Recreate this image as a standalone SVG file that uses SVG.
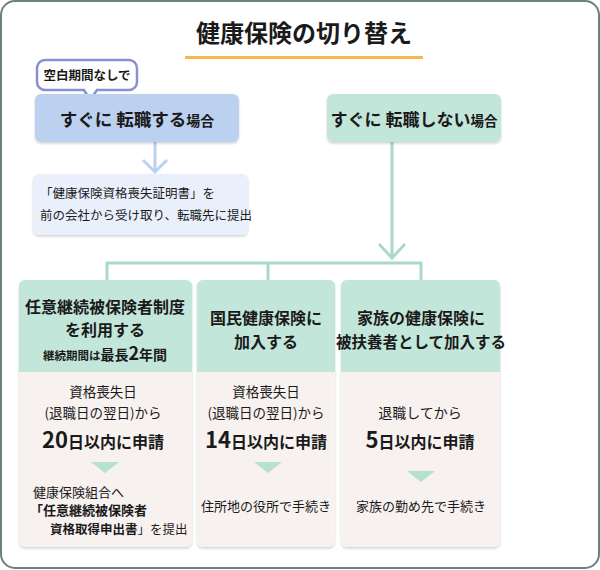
<svg xmlns="http://www.w3.org/2000/svg" width="600" height="570" viewBox="0 0 600 570">
<style>
text{font-family:"Noto Sans CJK JP","Noto Sans",sans-serif;fill:#1a1a1a;text-anchor:middle}
.b{font-weight:bold}
.hd{fill:#c3e6da}
.bd{fill:#f7f1f0}
.ln{stroke:#a9d9c8;stroke-width:3;fill:none}
.tri{fill:#b5e0d2}
</style>
<defs>
<filter id="sh" x="-5%" y="-5%" width="110%" height="115%"><feDropShadow dx="0" dy="1.5" stdDeviation="1" flood-color="#000" flood-opacity="0.18"/></filter>
</defs>
<rect x="1" y="1" width="598" height="567" rx="14" fill="#fff" stroke="#6e7f80" stroke-width="2"/>
<g id="title">
<rect x="185" y="56" width="238" height="3" fill="#f8b84e"/>
<text x="304" y="42" class="b" font-size="24">健康保険の切り替え</text>
</g>
<g id="connectors">
<path d="M155 142V172M143 160L155 172L167 160" stroke="#bcd0f0" stroke-width="3" fill="none"/>
<path class="ln" d="M392 142V258M379 244L392 258L405 244"/>
<path class="ln" d="M107 280V263H421V280M268 263V280"/>
</g>
<g id="bubble">
<path d="M45 60H129A8 8 0 0 1 137 68V82A8 8 0 0 1 129 90H97L90 100L84 90H45A8 8 0 0 1 37 82V68A8 8 0 0 1 45 60Z" fill="#fff" stroke="#8a8fd2" stroke-width="2.5"/>
<text x="87" y="80" class="b" font-size="12.5">空白期間なしで</text>
</g>
<g id="switch">
<rect x="35" y="94" width="204" height="48" rx="6" fill="#bcd0f0" filter="url(#sh)"/>
<text x="137" y="126" class="b" font-size="17.5">すぐに 転職する<tspan font-size="14">場合</tspan></text>
</g>
<g id="noswitch">
<rect x="327" y="94" width="174" height="48" rx="6" fill="#c3e6da" filter="url(#sh)"/>
<text x="414" y="126" class="b" font-size="17">すぐに 転職しない<tspan font-size="13.5">場合</tspan></text>
</g>
<g id="cert">
<rect x="33" y="174" width="215" height="61" rx="6" fill="#e9f0fb" filter="url(#sh)"/>
<text x="40" y="198" font-size="12.5" style="text-anchor:start">「健康保険資格喪失証明書」を</text>
<text x="40" y="220" font-size="12.5" style="text-anchor:start">前の会社から受け取り、転職先に提出</text>
</g>
<g id="nini">
<rect x="19" y="280" width="173" height="267" rx="6" class="bd" filter="url(#sh)"/>
<path d="M25 280H186A6 6 0 0 1 192 286V372H19V286A6 6 0 0 1 25 280Z" class="hd"/>
<text x="105" y="313" class="b" font-size="16">任意継続被保険者制度</text>
<text x="105" y="336" class="b" font-size="16">を利用する</text>
<text x="105" y="360" class="b" font-size="11.5">継続期間は<tspan font-size="14">最長</tspan><tspan font-size="18">2</tspan><tspan font-size="14">年間</tspan></text>
<text x="103" y="397" font-size="13.5">資格喪失日</text>
<text x="103" y="418" font-size="13.5">(退職日の翌日)から</text>
<text x="103" y="448" class="b" font-size="16"><tspan font-size="22">20</tspan>日以内に申請</text>
<polygon class="tri" points="91,462 119,462 105,473"/>
<text x="33" y="497" font-size="13" style="text-anchor:start">健康保険組合へ</text>
<text x="30" y="515" class="b" font-size="13" style="text-anchor:start">「任意継続被保険者</text>
<text x="50" y="534" font-size="12.5" style="text-anchor:start"><tspan font-weight="bold">資格取得申出書</tspan>」を提出</text>
</g>
<g id="kokumin">
<rect x="197" y="280" width="138" height="267" rx="6" class="bd" filter="url(#sh)"/>
<path d="M203 280H329A6 6 0 0 1 335 286V372H197V286A6 6 0 0 1 203 280Z" class="hd"/>
<text x="266" y="324" class="b" font-size="16">国民健康保険に</text>
<text x="266" y="348" class="b" font-size="16">加入する</text>
<text x="266" y="397" font-size="13.5">資格喪失日</text>
<text x="266" y="418" font-size="13.5">(退職日の翌日)から</text>
<text x="266" y="448" class="b" font-size="16"><tspan font-size="22">14</tspan>日以内に申請</text>
<polygon class="tri" points="254,462 282,462 268,473"/>
<text x="266" y="511" font-size="13">住所地の役所で手続き</text>
</g>
<g id="kazoku">
<rect x="341" y="280" width="159" height="267" rx="6" class="bd" filter="url(#sh)"/>
<path d="M347 280H494A6 6 0 0 1 500 286V372H341V286A6 6 0 0 1 347 280Z" class="hd"/>
<text x="421" y="324" class="b" font-size="16">家族の健康保険に</text>
<text x="421" y="348" class="b" font-size="15.5">被扶養者として加入する</text>
<text x="420" y="418" font-size="14">退職してから</text>
<text x="420" y="448" class="b" font-size="16"><tspan font-size="22">5</tspan>日以内に申請</text>
<polygon class="tri" points="407,471 435,471 421,482"/>
<text x="421" y="511" font-size="13">家族の勤め先で手続き</text>
</g>
</svg>
